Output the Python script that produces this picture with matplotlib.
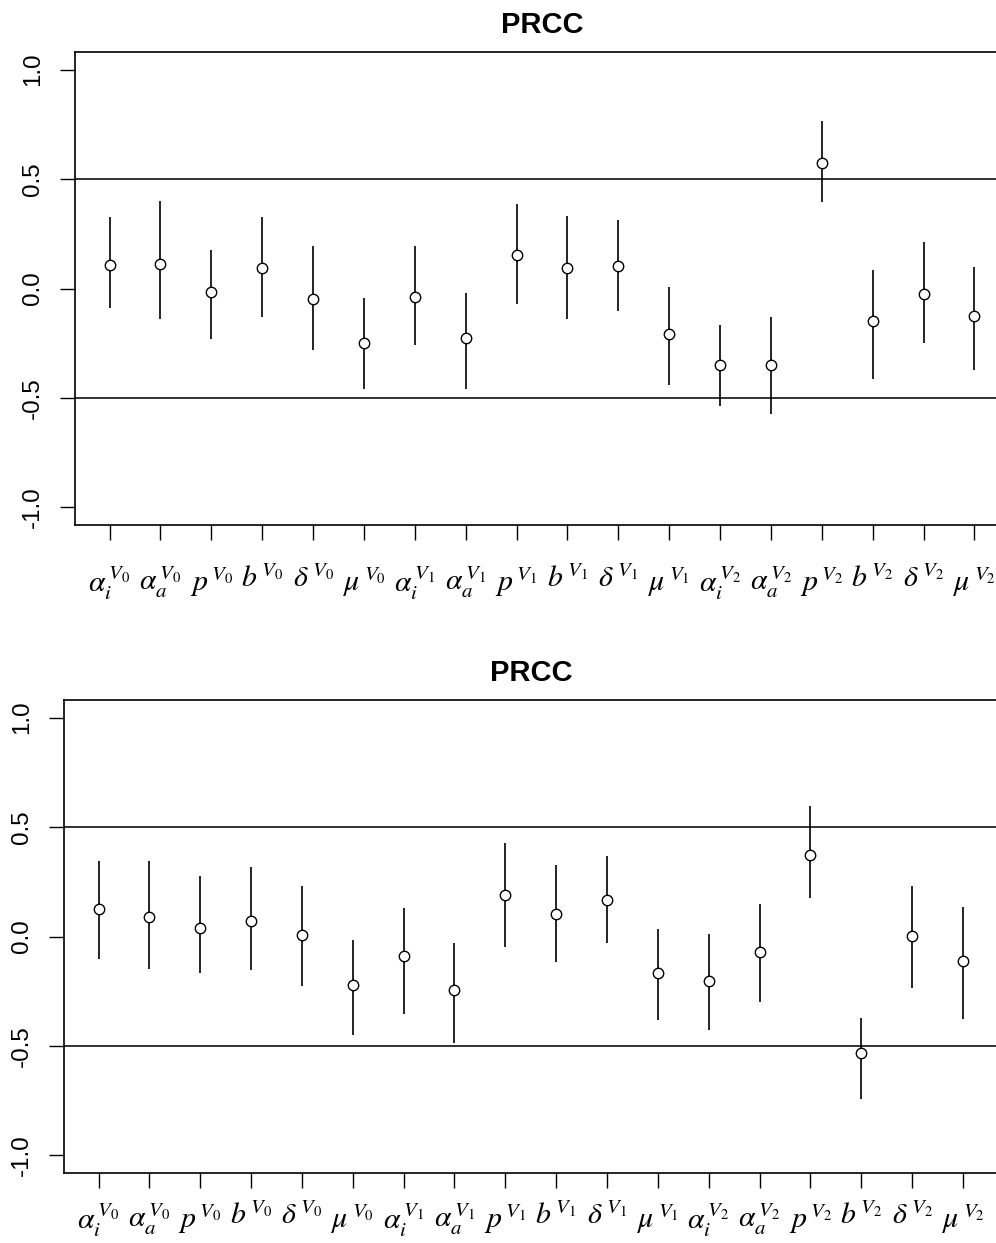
import matplotlib
matplotlib.use("Agg")
import matplotlib.pyplot as plt
import numpy as np

plt.rcParams['font.family'] = ['Liberation Sans', 'DejaVu Sans']
plt.rcParams['mathtext.fontset'] = 'stix'

labels = [r'$\alpha_i^{\,V_0}$', r'$\alpha_a^{\,V_0}$', r'$p^{\,V_0}$', r'$b^{\,V_0}$',
          r'$\delta^{\,V_0}$', r'$\mu^{\,V_0}$',
          r'$\alpha_i^{\,V_1}$', r'$\alpha_a^{\,V_1}$', r'$p^{\,V_1}$', r'$b^{\,V_1}$',
          r'$\delta^{\,V_1}$', r'$\mu^{\,V_1}$',
          r'$\alpha_i^{\,V_2}$', r'$\alpha_a^{\,V_2}$', r'$p^{\,V_2}$', r'$b^{\,V_2}$',
          r'$\delta^{\,V_2}$', r'$\mu^{\,V_2}$']

# Top panel
prcc_top = [0.107, 0.114, -0.018, 0.094, -0.047, -0.247, -0.038, -0.224, 0.152,
            0.094, 0.102, -0.209, -0.349, -0.349, 0.572, -0.150, -0.025, -0.127]
upper_top = [0.325, 0.400, 0.178, 0.325, 0.193, -0.043, 0.193, -0.020, 0.384,
             0.332, 0.312, 0.007, -0.168, -0.130, 0.765, 0.084, 0.213, 0.099]
lower_top = [-0.087, -0.137, -0.229, -0.130, -0.282, -0.457, -0.256, -0.457, -0.072,
             -0.137, -0.102, -0.439, -0.538, -0.575, 0.396, -0.413, -0.249, -0.371]

# Bottom panel
prcc_bot = [0.124, 0.087, 0.041, 0.072, 0.006, -0.222, -0.091, -0.245, 0.189,
            0.102, 0.168, -0.165, -0.201, -0.069, 0.372, -0.532, 0.002, -0.113]
upper_bot = [0.346, 0.346, 0.274, 0.319, 0.231, -0.014, 0.128, -0.029, 0.429,
             0.325, 0.368, 0.032, 0.011, 0.148, 0.598, -0.370, 0.231, 0.133]
lower_bot = [-0.103, -0.149, -0.168, -0.154, -0.227, -0.451, -0.352, -0.488, -0.047,
             -0.117, -0.029, -0.381, -0.425, -0.299, 0.178, -0.744, -0.236, -0.375]

W, H = 996, 1243
fig = plt.figure(figsize=(W / 100, H / 100), dpi=100)

def panel(rect, vals, lo, hi, xpad):
    ax = fig.add_axes(rect)
    x = np.arange(1, len(vals) + 1)
    ax.vlines(x, lo, hi, colors='black', linewidth=1.2, zorder=2)
    ax.plot(x, vals, linestyle='none', marker='o', markersize=7.5,
            markerfacecolor='white', markeredgecolor='black', markeredgewidth=1.0, zorder=3)
    ax.axhline(0.5, color='#222222', linewidth=1.3, zorder=1)
    ax.axhline(-0.5, color='#222222', linewidth=1.3, zorder=1)
    ax.set_xlim(0.32, 18.68)
    ax.set_ylim(-1.08, 1.08)
    ax.set_yticks([-1.0, -0.5, 0.0, 0.5, 1.0])
    ax.set_yticklabels(['-1.0', '-0.5', '0.0', '0.5', '1.0'], rotation=90, va='center',
                       fontsize=17.4)
    ax.set_xticks(x)
    ax.set_xticklabels(labels, fontsize=21.5)
    ax.tick_params(axis='y', direction='out', length=10.8, width=1.0, pad=11.5)
    ax.tick_params(axis='x', direction='out', length=10.8, width=1.0, pad=xpad)
    for s in ax.spines.values():
        s.set_linewidth(1.2)
    ax.spines['right'].set_visible(False)
    ax.set_title('PRCC', fontsize=21, fontweight='bold', pad=14)
    return ax

panel([75 / W, 1 - 525 / H, (1009 - 75) / W, (525 - 52) / H],
      prcc_top, lower_top, upper_top, 18)
panel([64 / W, 1 - 1173 / H, (997.5 - 64) / W, (1173 - 700) / H],
      prcc_bot, lower_bot, upper_bot, 10)

fig.savefig('out.png', dpi=100)
